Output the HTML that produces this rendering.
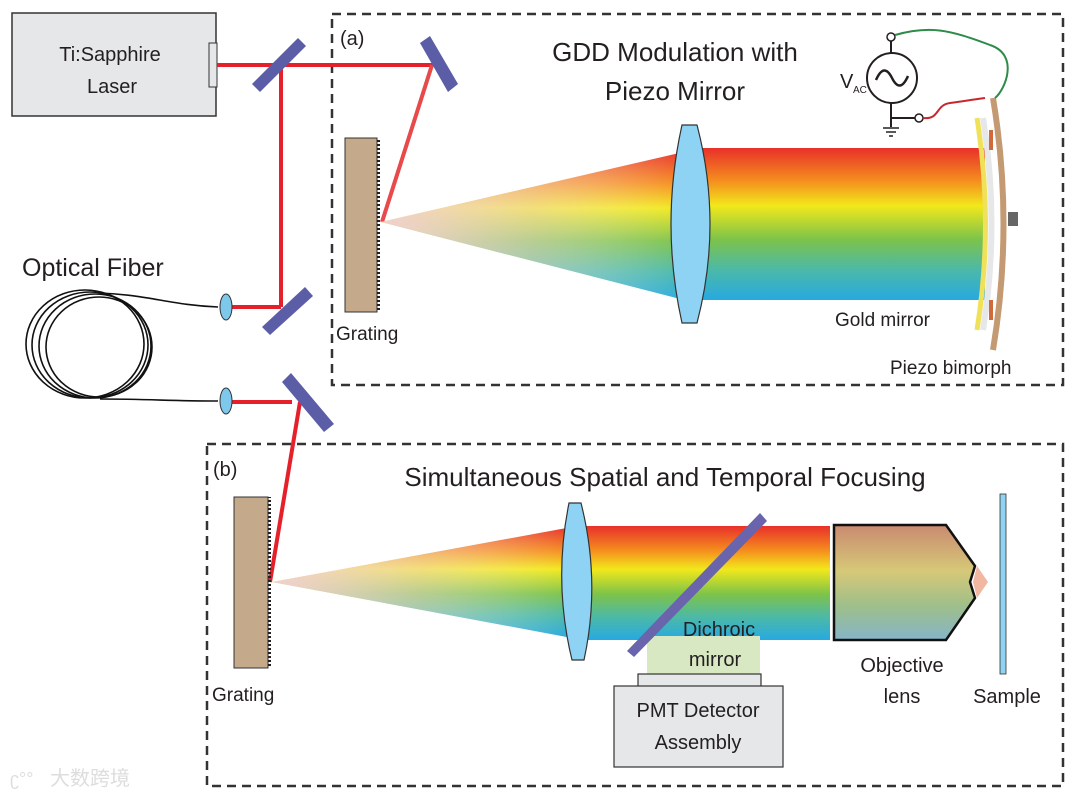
<!DOCTYPE html>
<html><head><meta charset="utf-8"><style>
html,body{margin:0;padding:0;background:#fff;width:1080px;height:797px;overflow:hidden}
svg text{font-family:"Liberation Sans","Noto Sans CJK SC",sans-serif;fill:#231f20}
</style></head><body>
<svg width="1080" height="797" viewBox="0 0 1080 797" xmlns="http://www.w3.org/2000/svg">
<defs>
<linearGradient id="rb" x1="0" y1="0" x2="0" y2="1">
<stop offset="0" stop-color="#e8302a"/><stop offset="0.22" stop-color="#f5901e"/>
<stop offset="0.38" stop-color="#f2e81b"/><stop offset="0.6" stop-color="#7dc34a"/>
<stop offset="0.8" stop-color="#4cb9a8"/><stop offset="1" stop-color="#27a9e1"/>
</linearGradient>
<linearGradient id="fade" x1="0" y1="0" x2="1" y2="0">
<stop offset="0" stop-color="#f2d0d0" stop-opacity="1"/><stop offset="0.5" stop-color="#f2d8d8" stop-opacity="0.5"/><stop offset="1" stop-color="#fff" stop-opacity="0"/>
</linearGradient>
<linearGradient id="obj" x1="0" y1="0" x2="0" y2="1">
<stop offset="0" stop-color="#c98a70"/><stop offset="0.4" stop-color="#d6c878"/><stop offset="0.7" stop-color="#9fbf8a"/><stop offset="1" stop-color="#85b5c8"/>
</linearGradient>
<pattern id="teeth" width="6" height="4" patternUnits="userSpaceOnUse"><rect width="6" height="2" fill="#231f20"/></pattern>
</defs>

<!-- boxes -->
<rect x="332" y="14" width="731" height="371" fill="none" stroke="#333" stroke-width="2.5" stroke-dasharray="9,6"/>
<rect x="207" y="444" width="856" height="342" fill="none" stroke="#333" stroke-width="2.5" stroke-dasharray="9,6"/>

<!-- laser -->
<rect x="12" y="13" width="204" height="103" fill="#e6e7e8" stroke="#333" stroke-width="1.5"/>
<rect x="209" y="43" width="8" height="44" fill="#e6e7e8" stroke="#333" stroke-width="1"/>
<text x="110" y="61" font-size="20" text-anchor="middle">Ti:Sapphire</text>
<text x="112" y="93" font-size="20" text-anchor="middle">Laser</text>

<!-- beams -->
<g stroke="#e5202b" stroke-width="4" fill="none">
<line x1="217" y1="65" x2="445" y2="65"/>
<line x1="281" y1="65" x2="281" y2="307"/>
<line x1="225" y1="307" x2="281" y2="307"/>
<line x1="225" y1="402" x2="292" y2="402"/>
<line x1="300" y1="402" x2="270" y2="582"/>
</g>
<line x1="432" y1="65" x2="382" y2="222" stroke="#e8494a" stroke-width="4"/>

<!-- mirrors -->
<g fill="#5b5ea6">
<polygon points="252,84 298,38 306,46 260,92"/>
<polygon points="262,327 305,287 313,296 270,335"/>
<polygon points="420,43 430,36 458,84 448,92"/>
<polygon points="282,382 291,373 334,424 324,432"/>
</g>

<!-- small lenses -->
<ellipse cx="226" cy="307" rx="6" ry="13" fill="#7ec8ec" stroke="#333" stroke-width="1"/>
<ellipse cx="226" cy="401" rx="6" ry="13" fill="#7ec8ec" stroke="#333" stroke-width="1"/>

<!-- fiber -->
<text x="22" y="276" font-size="25">Optical Fiber</text>
<g fill="none" stroke="#111" stroke-width="1.6">
<ellipse cx="85" cy="344" rx="59" ry="54"/>
<ellipse cx="90" cy="345" rx="58" ry="53"/>
<ellipse cx="95" cy="346" rx="56" ry="52"/>
<ellipse cx="99" cy="347" rx="53" ry="50"/>
<path d="M100,293 C150,295 170,305 218,307"/>
<path d="M100,399 C150,399 170,401 218,401"/>
</g>

<!-- (a) -->
<text x="340" y="45" font-size="20">(a)</text>
<text x="675" y="61" font-size="26" text-anchor="middle">GDD Modulation with</text>
<text x="675" y="100" font-size="26" text-anchor="middle">Piezo Mirror</text>

<!-- grating a -->
<rect x="345" y="138" width="32" height="174" fill="#c4a98a" stroke="#333" stroke-width="1"/>
<rect x="377" y="138" width="3" height="174" fill="url(#teeth)"/>
<text x="336" y="340" font-size="19">Grating</text>

<!-- fan a -->
<polygon points="381,222 688,151 688,301" fill="url(#rb)"/>
<polygon points="381,222 688,151 688,301" fill="url(#fade)"/>
<rect x="700" y="148" width="285" height="152" fill="url(#rb)"/>
<path d="M682,125 L697,125 Q723,224 697,323 L682,323 Q660,224 682,125Z" fill="#8fd3f4" stroke="#333" stroke-width="1.2"/>

<!-- piezo mirror -->
<path d="M977,118 Q994,224 977,330" fill="none" stroke="#f0e15a" stroke-width="5"/>
<path d="M983,118 Q1000,224 983,330" fill="none" stroke="#e6e7e8" stroke-width="6"/>
<path d="M993,98 Q1014,224 993,350" fill="none" stroke="#c49a72" stroke-width="6"/>
<rect x="1008" y="212" width="10" height="14" fill="#666"/>
<rect x="989" y="130" width="4" height="20" fill="#d2693a"/>
<rect x="989" y="300" width="4" height="20" fill="#d2693a"/>
<text x="835" y="326" font-size="19">Gold mirror</text>
<text x="890" y="374" font-size="19">Piezo bimorph</text>

<!-- V_AC -->
<circle cx="892" cy="78" r="25" fill="#fff" stroke="#231f20" stroke-width="2"/>
<path d="M876,80 Q884,62 892,78 Q900,94 908,76" fill="none" stroke="#231f20" stroke-width="2.5"/>
<line x1="891" y1="53" x2="891" y2="41" stroke="#231f20" stroke-width="2"/>
<circle cx="891" cy="37" r="4" fill="#fff" stroke="#231f20" stroke-width="1.5"/>
<line x1="891" y1="103" x2="891" y2="127" stroke="#231f20" stroke-width="2"/>
<line x1="891" y1="118" x2="915" y2="118" stroke="#231f20" stroke-width="2"/>
<circle cx="919" cy="118" r="4" fill="#fff" stroke="#231f20" stroke-width="1.5"/>
<line x1="883" y1="128" x2="899" y2="128" stroke="#231f20" stroke-width="1.5"/>
<line x1="886" y1="132" x2="896" y2="132" stroke="#231f20" stroke-width="1.5"/>
<line x1="889" y1="136" x2="893" y2="136" stroke="#231f20" stroke-width="1.5"/>
<path d="M895,35 C930,25 950,30 990,45 C1020,55 1005,90 995,98" fill="none" stroke="#2e8b4a" stroke-width="2"/>
<path d="M923,118 C940,120 935,105 950,103 C965,101 970,100 985,98" fill="none" stroke="#c8272e" stroke-width="2"/>
<text x="840" y="88" font-size="20">V</text>
<text x="853" y="93" font-size="10">AC</text>

<!-- (b) -->
<text x="213" y="476" font-size="20">(b)</text>
<text x="665" y="486" font-size="26" text-anchor="middle">Simultaneous Spatial and Temporal Focusing</text>

<rect x="234" y="497" width="34" height="171" fill="#c4a98a" stroke="#333" stroke-width="1"/>
<rect x="268" y="497" width="3" height="171" fill="url(#teeth)"/>
<text x="212" y="701" font-size="19">Grating</text>

<polygon points="272,582 572,527 572,638" fill="url(#rb)"/>
<polygon points="272,582 572,527 572,638" fill="url(#fade)"/>
<rect x="578" y="526" width="252" height="114" fill="url(#rb)"/>
<rect x="647" y="636" width="113" height="40" fill="#d8e8c2"/>
<path d="M569,503 L581,503 Q601,582 584,660 L572,660 Q553,582 569,503Z" fill="#8fd3f4" stroke="#333" stroke-width="1.2"/>
<polygon points="627,651 760,513 767,521 634,657" fill="#6a64ad"/>
<text x="719" y="636" font-size="20" text-anchor="middle">Dichroic</text>
<text x="715" y="666" font-size="20" text-anchor="middle">mirror</text>

<rect x="638" y="674" width="123" height="13" fill="#e6e7e8" stroke="#333" stroke-width="1.2"/>
<rect x="614" y="686" width="169" height="81" fill="#e6e7e8" stroke="#333" stroke-width="1.2"/>
<text x="698" y="717" font-size="20" text-anchor="middle">PMT Detector</text>
<text x="698" y="749" font-size="20" text-anchor="middle">Assembly</text>

<polygon points="834,525 946,525 975,566 970,582 975,598 946,640 834,640" fill="url(#obj)" stroke="#111" stroke-width="2.5"/>
<polygon points="977,566 988,582 977,598 973,582" fill="#f2b7a0"/>
<rect x="1000" y="494" width="6" height="180" fill="#8fd3f4" stroke="#333" stroke-width="0.8"/>
<text x="902" y="672" font-size="20" text-anchor="middle">Objective</text>
<text x="902" y="703" font-size="20" text-anchor="middle">lens</text>
<text x="1007" y="703" font-size="20" text-anchor="middle">Sample</text>

<text x="50" y="785" font-size="20" style="fill:#ddd">大数跨境</text>
<text x="10" y="785" font-size="18" style="fill:#ddd">ʗ°°</text>
</svg>
</body></html>
